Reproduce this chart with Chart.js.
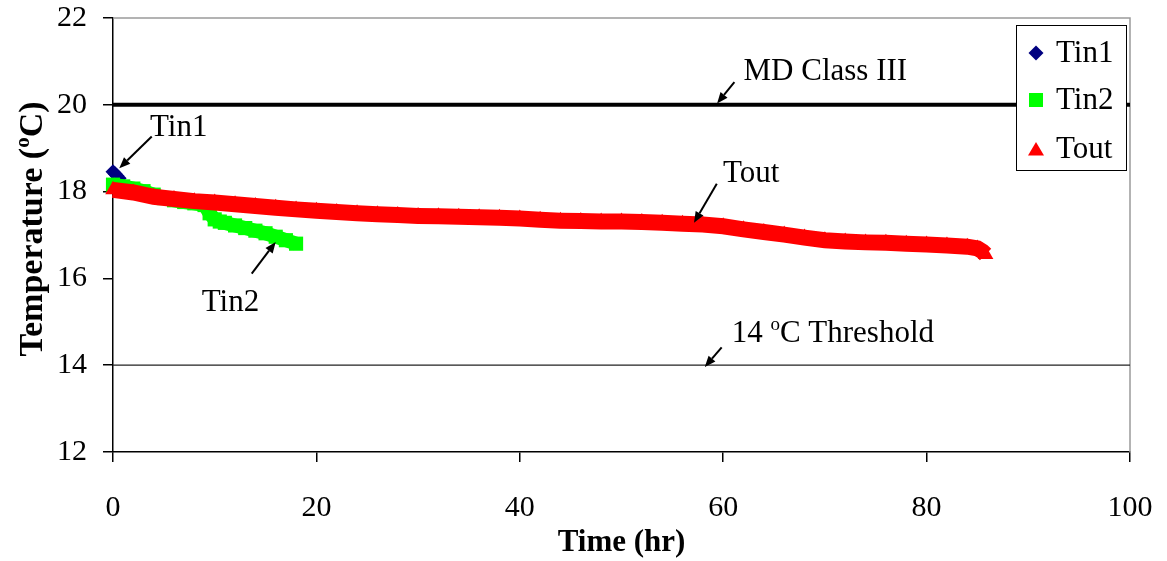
<!DOCTYPE html>
<html>
<head>
<meta charset="utf-8">
<title>Temperature vs Time</title>
<script src="https://cdn.jsdelivr.net/npm/chart.js@4.4.0/dist/chart.umd.min.js"></script>
<style>
  html, body { margin: 0; padding: 0; background: #fff; }
  #wrap { position: relative; width: 1167px; height: 561px; }
</style>
</head>
<body>
<div id="wrap"><canvas id="temp-chart"></canvas></div>
<script>
// --- Series ---
const tin1Time = [0, 0.2, 0.4, 0.6];
const tin1Temp = [18.46, 18.41, 18.36, 18.31];

const tin2Time = [0, 1, 2, 3, 4, 5, 6, 7, 8, 9, 9.5, 10, 10.5, 11, 12, 13, 14, 15, 16, 17, 18];
const tin2Temp = [18.16, 18.12, 18.07, 18.01, 17.93, 17.85, 17.80, 17.76, 17.73, 17.69, 17.50, 17.36, 17.31,
                  17.28, 17.22, 17.16, 17.10, 17.04, 16.96, 16.88, 16.80];

const toutTime = [0, 2, 4, 6, 8, 10, 12, 14, 16, 18, 20, 22, 24, 26, 28, 30, 32, 34, 36, 38, 40, 42,
                  44, 46, 48, 50, 52, 54, 56, 58, 60, 62, 64, 66, 68, 70, 72, 74, 76, 78, 80, 82, 84,
                  85, 85.5, 85.8];
const toutTemp = [18.04, 17.98, 17.88, 17.83, 17.78, 17.75, 17.71, 17.67, 17.63, 17.59, 17.56, 17.53,
                  17.50, 17.48, 17.46, 17.44, 17.43, 17.42, 17.41, 17.40, 17.38, 17.35, 17.33, 17.32,
                  17.31, 17.31, 17.30, 17.28, 17.26, 17.24, 17.20, 17.13, 17.07, 17.01, 16.94, 16.88,
                  16.85, 16.83, 16.82, 16.80, 16.78, 16.76, 16.73, 16.69, 16.62, 16.55];

// reference limits
const mdClassLimit = 20;
const thresholdTemp = 14;

const xTicks = [0, 20, 40, 60, 80, 100];
const yTicks = [12, 14, 16, 18, 20, 22];

const seriesNames = ['Tin1', 'Tin2', 'Tout'];
const seriesColors = ['#000080', '#00ff00', '#ff0000'];

// --- Helpers ---
const SERIF = '"Liberation Serif", "Times New Roman", serif';

function pairs(xs, ys) {
    return xs.map((x, i) => ({ x: x, y: ys[i] }));
}

function marker(ctx, shape, x, y, color) {
    ctx.save();
    ctx.fillStyle = color;
    ctx.beginPath();
    if (shape === 'diamond') {
        ctx.moveTo(x, y - 7.5); ctx.lineTo(x + 7.5, y); ctx.lineTo(x, y + 7.5); ctx.lineTo(x - 7.5, y);
    } else if (shape === 'square') {
        ctx.rect(x - 7, y - 7, 14, 14);
    } else {
        ctx.moveTo(x, y - 7); ctx.lineTo(x + 8, y + 6.5); ctx.lineTo(x - 8, y + 6.5);
    }
    ctx.closePath();
    ctx.fill();
    ctx.restore();
}

function arrow(ctx, x1, y1, x2, y2) {
    const ang = Math.atan2(y2 - y1, x2 - x1);
    const head = 11, half = 4.5;
    const bx = x2 - Math.cos(ang) * head, by = y2 - Math.sin(ang) * head;
    ctx.save();
    ctx.strokeStyle = '#000';
    ctx.fillStyle = '#000';
    ctx.lineWidth = 2;
    ctx.beginPath();
    ctx.moveTo(x1, y1);
    ctx.lineTo(bx, by);
    ctx.stroke();
    ctx.beginPath();
    ctx.moveTo(x2, y2);
    ctx.lineTo(bx + Math.sin(ang) * half, by - Math.cos(ang) * half);
    ctx.lineTo(bx - Math.sin(ang) * half, by + Math.cos(ang) * half);
    ctx.closePath();
    ctx.fill();
    ctx.restore();
}

// text with a raised small "o" standing in for the degree sign
function textWithDegree(ctx, before, after, x, y, size, weight) {
    ctx.font = `${weight} ${size}px ${SERIF}`;
    ctx.fillText(before, x, y);
    x += ctx.measureText(before).width;
    ctx.font = `${weight} ${Math.round(size * 0.62)}px ${SERIF}`;
    ctx.fillText('o', x, y - size * 0.38);
    x += ctx.measureText('o').width;
    ctx.font = `${weight} ${size}px ${SERIF}`;
    ctx.fillText(after, x, y);
}

// callouts, in data units: text anchor and arrow tail -> tip
const callouts = [
    { text: 'MD Class III', at: [62.0, 20.58], from: [61.1, 20.52], to: [59.4, 20.03] },
    { text: 'Tout', at: [59.98, 18.23], from: [59.37, 18.18], to: [57.13, 17.28] },
    { text: 'Tin1', at: [3.64, 19.28], from: [3.81, 19.27], to: [0.62, 18.54] },
    { text: 'Tin2', at: [8.72, 15.25], from: [13.64, 16.11], to: [16.0, 16.84] },
    { text: ['14 ', 'C Threshold'], at: [60.83, 14.54], from: [59.85, 14.41], to: [58.19, 13.96] }
];

const decorPlugin = {
    id: 'decor',
    beforeDatasetsDraw(chart) {
        const { ctx, chartArea: a } = chart;
        // light frame on the top and right of the plot area
        ctx.save();
        ctx.strokeStyle = '#9a9a9a';
        ctx.lineWidth = 1.5;
        ctx.beginPath();
        ctx.moveTo(a.left, a.top);
        ctx.lineTo(a.right, a.top);
        ctx.lineTo(a.right, a.bottom);
        ctx.stroke();
        ctx.restore();
    },
    afterDraw(chart) {
        const { ctx, chartArea: a, scales } = chart;
        const px = v => scales.x.getPixelForValue(v);
        const py = v => scales.y.getPixelForValue(v);

        ctx.save();
        ctx.fillStyle = '#000';
        ctx.textBaseline = 'alphabetic';
        ctx.textAlign = 'left';

        callouts.forEach(c => {
            if (Array.isArray(c.text)) {
                textWithDegree(ctx, c.text[0], c.text[1], px(c.at[0]), py(c.at[1]), 31, 'normal');
            } else {
                ctx.font = `31px ${SERIF}`;
                ctx.fillText(c.text, px(c.at[0]), py(c.at[1]));
            }
            arrow(ctx, px(c.from[0]), py(c.from[1]), px(c.to[0]), py(c.to[1]));
        });

        // axis titles
        ctx.font = `bold 31px ${SERIF}`;
        ctx.textAlign = 'center';
        ctx.fillText('Time (hr)', (a.left + a.right) / 2, 551);

        ctx.save();
        ctx.translate(42, (a.top + a.bottom) / 2 - 6);
        ctx.rotate(-Math.PI / 2);
        ctx.textAlign = 'left';
        ctx.font = `bold 34px ${SERIF}`;
        const full = ctx.measureText('Temperature (').width + ctx.measureText('C)').width;
        ctx.font = `bold 21px ${SERIF}`;
        const w = full + ctx.measureText('o').width;
        textWithDegree(ctx, 'Temperature (', 'C)', -w / 2, 0, 34, 'bold');
        ctx.restore();

        // legend box
        const bx = 1016, by = 25, bw = 110, bh = 145;
        ctx.fillStyle = '#fff';
        ctx.fillRect(bx, by, bw, bh);
        ctx.strokeStyle = '#000';
        ctx.lineWidth = 1;
        ctx.strokeRect(bx + 0.5, by + 0.5, bw, bh);

        const shapes = ['diamond', 'square', 'triangle'];
        const rows = [53, 100, 149];
        ctx.textAlign = 'left';
        ctx.textBaseline = 'middle';
        ctx.font = `31px ${SERIF}`;
        seriesNames.forEach((name, i) => {
            marker(ctx, shapes[i], 1036, rows[i], seriesColors[i]);
            ctx.fillStyle = '#000';
            ctx.fillText(name, 1056, rows[i] + 1);
        });
        ctx.restore();
    }
};

// --- Chart ---
const tickFont = { family: SERIF, size: 30 };

new Chart(document.getElementById('temp-chart'), {
    type: 'scatter',
    data: {
        datasets: [
            {
                label: seriesNames[2],
                data: pairs(toutTime, toutTemp),
                showLine: true,
                clip: false,
                borderColor: seriesColors[2],
                backgroundColor: seriesColors[2],
                borderWidth: 16,
                pointStyle: 'triangle',
                pointRadius: 9,
                pointBorderWidth: 0,
                order: 0
            },
            {
                label: seriesNames[1],
                data: pairs(tin2Time, tin2Temp),
                showLine: true,
                clip: false,
                borderColor: seriesColors[1],
                backgroundColor: seriesColors[1],
                borderWidth: 14,
                pointStyle: 'rect',
                pointRadius: 10,
                pointBorderWidth: 0,
                order: 1
            },
            {
                label: seriesNames[0],
                data: pairs(tin1Time, tin1Temp),
                showLine: false,
                clip: false,
                backgroundColor: seriesColors[0],
                borderColor: seriesColors[0],
                pointStyle: 'rectRot',
                pointRadius: 7.5,
                pointBorderWidth: 0,
                order: 2
            },
            {
                label: 'MD Class III',
                data: [{ x: 0, y: mdClassLimit }, { x: 100, y: mdClassLimit }],
                showLine: true,
                borderColor: '#000',
                borderWidth: 4,
                pointRadius: 0,
                order: 3
            },
            {
                label: '14 C Threshold',
                data: [{ x: 0, y: thresholdTemp }, { x: 100, y: thresholdTemp }],
                showLine: true,
                borderColor: '#222',
                borderWidth: 1.3,
                pointRadius: 0,
                order: 3
            }
        ]
    },
    options: {
        responsive: true,
        maintainAspectRatio: false,
        animation: false,
        events: [],
        layout: { padding: { top: 18, right: 37, left: 0, bottom: 0 } },
        plugins: {
            legend: { display: false },
            tooltip: { enabled: false }
        },
        scales: {
            x: {
                type: 'linear',
                min: xTicks[0],
                max: xTicks[xTicks.length - 1],
                afterBuildTicks: s => { s.ticks = xTicks.map(v => ({ value: v })); },
                // fixed band height, and no extra room for the end labels
                afterFit: s => { s.height = 109; s.paddingLeft = 0; s.paddingRight = 0; },
                ticks: { color: '#000', font: tickFont, padding: 28, maxRotation: 0 },
                grid: { drawOnChartArea: false, drawTicks: true, tickLength: 10, color: '#000', lineWidth: 1.5 },
                border: { color: '#000', width: 1.5 }
            },
            y: {
                type: 'linear',
                min: yTicks[0],
                max: yTicks[yTicks.length - 1],
                afterBuildTicks: s => { s.ticks = yTicks.map(v => ({ value: v })); },
                afterFit: s => { s.width = 113; s.paddingTop = 0; s.paddingBottom = 0; },
                ticks: { color: '#000', font: tickFont, padding: 16 },
                grid: { drawOnChartArea: false, drawTicks: true, tickLength: 10, color: '#000', lineWidth: 1.5 },
                border: { color: '#000', width: 1.5 }
            }
        }
    },
    plugins: [decorPlugin]
});
</script>
</body>
</html>
